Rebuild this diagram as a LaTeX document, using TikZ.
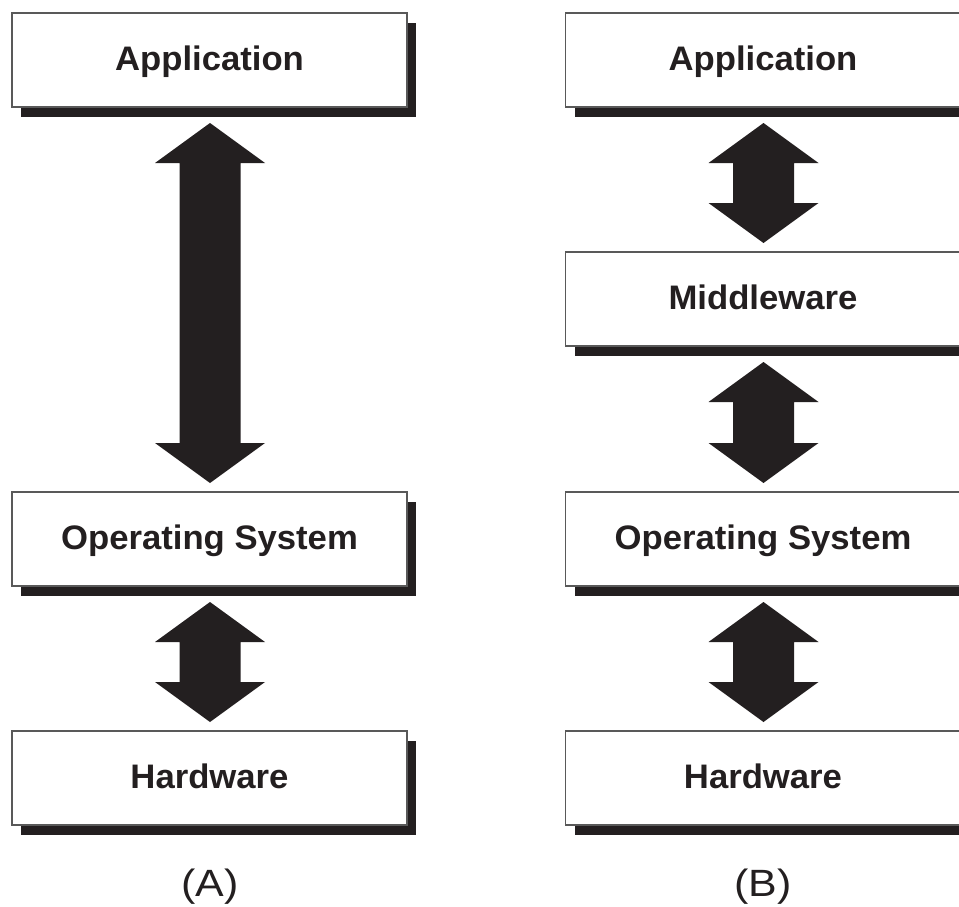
\documentclass[tikz,border=0pt]{standalone}
\usepackage{fontspec}
\newfontfamily\boxfont[FakeStretch=1.02]{Liberation Sans}
\newfontfamily\capfont[FakeStretch=1.13]{Liberation Sans}
\usetikzlibrary{calc,shadows}
\definecolor{ink}{HTML}{231F20}
\tikzset{
  layerbox/.style={draw=black!65, line width=1.2pt, fill=white, minimum width=395pt,
    minimum height=94pt, inner sep=0pt, outer sep=0pt, text=ink,
    text height=24.5pt, text depth=3pt,
    font=\boxfont\bfseries\fontsize{34}{40}\selectfont,
    drop shadow={shadow xshift=9pt, shadow yshift=-10pt, fill=ink, opacity=1, draw=none}},
  caption/.style={text=ink, inner sep=0pt, font=\capfont\fontsize{38}{44}\selectfont},
  arrowfill/.style={fill=ink}
}
\newcommand\dblarrow[2]{%
  \fill[arrowfill] let \p1=($(#1.south)+(0.5,16)$), \p2=($(#2.north)+(0.5,-9)$) in
    (\x1,\y1) -- (\x1+55pt,\y1-40pt) -- (\x1+30.5pt,\y1-40pt) -- (\x2+30.5pt,\y2+40pt)
    -- (\x2+55pt,\y2+40pt) -- (\x2,\y2) -- (\x2-55pt,\y2+40pt) -- (\x2-30.5pt,\y2+40pt)
    -- (\x1-30.5pt,\y1-40pt) -- (\x1-55pt,\y1-40pt) -- cycle;}
\begin{document}
\begin{tikzpicture}[x=1pt,y=-1pt]
\useasboundingbox (0,0) rectangle (959,907);
% column A
\node[layerbox] (aapp) at (209.5,60) {Application};
\node[layerbox] (aos)  at (209.5,539) {Operating System};
\node[layerbox] (ahw)  at (209.5,778) {Hardware};
% column B
\node[layerbox] (bapp) at (763,60) {Application};
\node[layerbox] (bmw)  at (763,299) {Middleware};
\node[layerbox] (bos)  at (763,539) {Operating System};
\node[layerbox] (bhw)  at (763,778) {Hardware};
% arrows
\dblarrow{aapp}{aos}
\dblarrow{aos}{ahw}
\dblarrow{bapp}{bmw}
\dblarrow{bmw}{bos}
\dblarrow{bos}{bhw}
% captions
\node[caption] (capA) at (210,887) {(A)};
\node[caption] (capB) at (763,887) {(B)};
\end{tikzpicture}
\end{document}
